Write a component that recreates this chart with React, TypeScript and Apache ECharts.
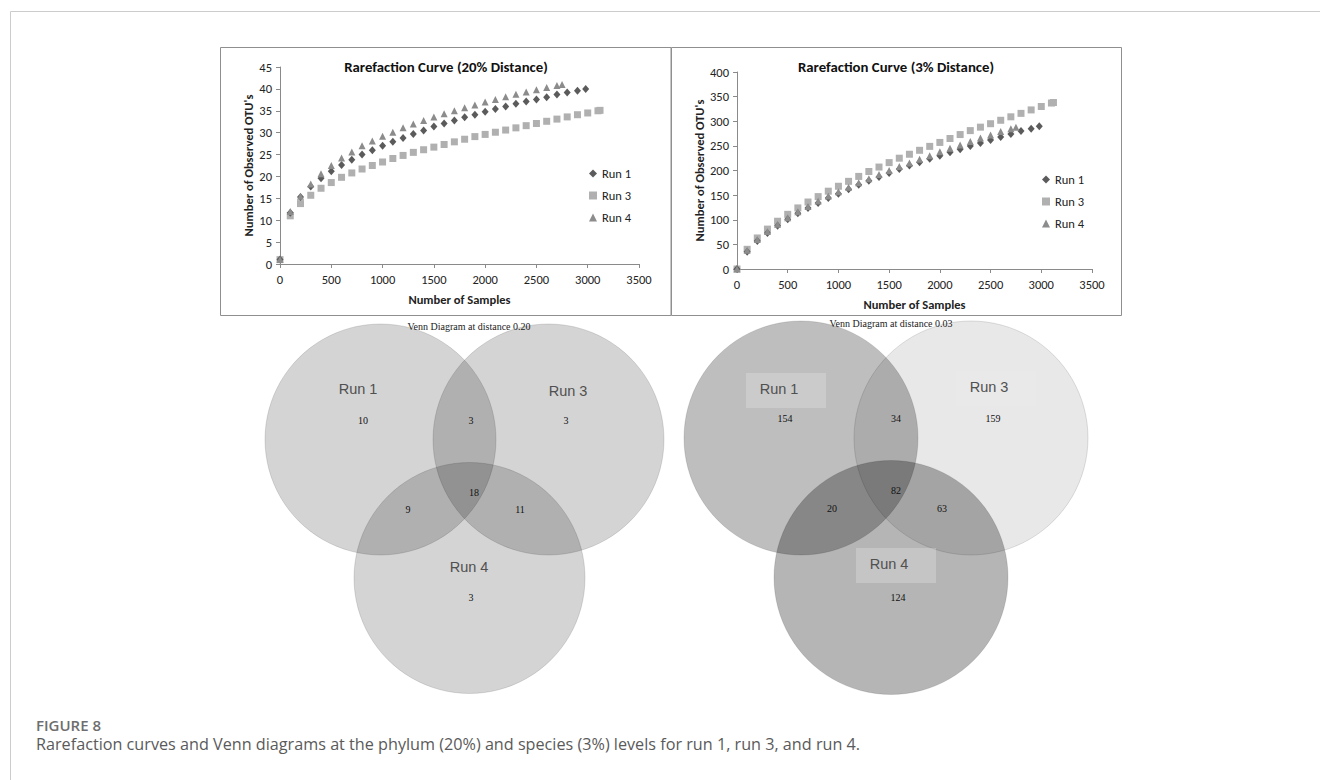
import React, { useEffect, useRef } from "react";
import * as echarts from "echarts";

// ---------- data ----------
const runNames = ["Run 1", "Run 3", "Run 4"];

// Rarefaction 20% distance
const run1X20 = [0,100,200,300,400,500,600,700,800,900,1000,1100,1200,1300,1400,1500,1600,1700,1800,1900,2000,2100,2200,2300,2400,2500,2600,2700,2800,2900,2980];
const run1Y20 = [1,11.7,15.3,17.7,19.6,21.2,22.6,23.8,25.0,26.0,27.0,27.9,28.8,29.7,30.5,31.4,32.1,32.8,33.5,34.1,34.8,35.4,36.0,36.6,37.1,37.6,38.1,38.7,39.2,39.6,40.0];
const run3X20 = [0,100,200,300,400,500,600,700,800,900,1000,1100,1200,1300,1400,1500,1600,1700,1800,1900,2000,2100,2200,2300,2400,2500,2600,2700,2800,2900,3000,3100,3120];
const run3Y20 = [1,11.0,13.8,15.7,17.3,18.6,19.8,20.8,21.7,22.5,23.3,24.1,24.8,25.5,26.1,26.7,27.3,27.9,28.5,29.1,29.6,30.1,30.6,31.1,31.6,32.1,32.6,33.1,33.6,34.1,34.5,35.0,35.1];
const run4X20 = [0,100,200,300,400,500,600,700,800,900,1000,1100,1200,1300,1400,1500,1600,1700,1800,1900,2000,2100,2200,2300,2400,2500,2600,2700,2750];
const run4Y20 = [1,12.0,15.5,18.3,20.6,22.5,24.2,25.6,27.0,28.1,29.2,30.1,31.1,32.0,32.8,33.6,34.3,35.0,35.7,36.3,37.0,37.6,38.2,38.8,39.3,39.8,40.3,40.8,41.0];

// Rarefaction 3% distance
const run1X3 = run1X20;
const run1Y3 = [0,35,57,73,88,101,113,124,134,144,153,162,171,179,187,195,203,210,217,224,230,237,243,250,256,262,268,274,280,285,290];
const run3X3 = run3X20;
const run3Y3 = [0,40,63,81,97,111,124,136,147,158,168,178,188,198,207,216,225,233,241,249,257,265,273,281,288,295,302,309,316,323,330,337,338];
const run4X3 = run4X20;
const run4Y3 = [0,38,60,76,91,104,116,127,138,148,157,166,175,183,192,200,208,215,223,230,238,245,252,259,266,272,279,285,288];

// Venn counts: [only 1, only 3, only 4, 1∩3, 1∩4, 3∩4, 1∩3∩4]
const venn20Counts = [10, 3, 3, 3, 9, 11, 18];
const venn3Counts = [154, 159, 124, 34, 20, 63, 82];

const chartTitles = ["Rarefaction Curve (20% Distance)", "Rarefaction Curve (3% Distance)"];
const vennTitles = ["Venn Diagram at distance 0.20", "Venn Diagram at distance 0.03"];
const xAxisName = "Number of Samples";
const yAxisName = "Number of Observed OTU's";
const figureLabel = "FIGURE 8";
const captionText = "Rarefaction curves and Venn diagrams at the phylum (20%) and species (3%) levels for run 1, run 3, and run 4.";

// ---------- styles ----------
const FONT = "Carlito, Lato, 'Open Sans', sans-serif";
const runColors = ["#5b5b5b", "#b0b0b0", "#8c8c8c"];
const runSymbols = ["diamond", "rect", "triangle"];
const runSymbolSizes = [[7, 8], 7, 7];

function zip(xs: number[], ys: number[]) {
  return xs.map((x, i) => [x, ys[i]]);
}

export default function App() {
  const ref = useRef<HTMLDivElement>(null);

  useEffect(() => {
    if (!ref.current) return;
    const chart = echarts.init(ref.current, undefined, { renderer: "svg" });

    const data20 = [zip(run1X20, run1Y20), zip(run3X20, run3Y20), zip(run4X20, run4Y20)];
    const data3 = [zip(run1X3, run1Y3), zip(run3X3, run3Y3), zip(run4X3, run4Y3)];

    const series: any[] = [];
    [data20, data3].forEach((set, gi) => {
      set.forEach((d, i) => {
        series.push({
          type: "scatter",
          name: runNames[i],
          xAxisIndex: gi,
          yAxisIndex: gi,
          data: d,
          symbol: runSymbols[i],
          symbolSize: runSymbolSizes[i],
          itemStyle: { color: runColors[i], opacity: 1 },
          z: 3 + (i === 1 ? 0 : 1),
        });
      });
    });

    const axisLine = { show: true, lineStyle: { color: "#8a8a8a", width: 1 } };
    const axisTick = { show: true, length: 4, lineStyle: { color: "#8a8a8a" } };
    const labelStyle = { fontFamily: FONT, fontSize: 12.5, color: "#222", formatter: (v: number) => String(v) };
    const nameStyle = { fontFamily: FONT, fontSize: 12.5, fontWeight: "bold" as const, color: "#222" };

    const xAxes = [0, 1].map((gi) => ({
      type: "value",
      gridIndex: gi,
      min: 0,
      max: 3500,
      interval: 500,
      axisLine,
      axisTick,
      splitLine: { show: false },
      axisLabel: { ...labelStyle, margin: 9 },
      name: xAxisName,
      nameLocation: "middle",
      nameGap: 29,
      nameTextStyle: nameStyle,
    }));
    const yAxes = [
      { max: 45, interval: 5, nameGap: 22 },
      { max: 400, interval: 50, nameGap: 29 },
    ].map((c, gi) => ({
      type: "value",
      gridIndex: gi,
      min: 0,
      max: c.max,
      interval: c.interval,
      axisLine,
      axisTick,
      splitLine: { show: false },
      axisLabel: { ...labelStyle, margin: 8 },
      name: yAxisName,
      nameLocation: "middle",
      nameGap: c.nameGap,
      nameTextStyle: nameStyle,
    }));

    // Venn layouts
    const vennCircles = [
      [ [380.5, 439.5], [548.5, 439.5], [469.5, 578] ],
      [ [801, 438], [971, 438], [891, 577.5] ],
    ];
    const vennR = [115.5, 117];
    const vennFills = [
      ["rgba(0,0,0,0.17)", "rgba(0,0,0,0.17)", "rgba(0,0,0,0.17)"],
      ["rgba(0,0,0,0.255)", "rgba(0,0,0,0.09)", "rgba(0,0,0,0.29)"],
    ];
    const vennCountPos = [
      [[363, 420], [566, 420], [471, 597], [471, 420], [408, 509], [520, 509], [474, 492]],
      [[785, 418], [993, 418], [898, 597], [896, 418], [832, 508], [942, 508], [896, 490]],
    ];
    const vennLabelPos = [
      [[358, 389], [568, 391], [469, 567]],
      [[779, 389], [989, 387], [889, 564]],
    ];
    const vennTitlePos = [[469, 326], [891, 323]];
    const vennCounts = [venn20Counts, venn3Counts];

    const graphics: any[] = [];
    // outer frame
    graphics.push({ type: "line", shape: { x1: 10.5, y1: 11.5, x2: 1320, y2: 11.5 }, style: { stroke: "#cccccc", lineWidth: 1 } });
    graphics.push({ type: "line", shape: { x1: 10.5, y1: 11.5, x2: 10.5, y2: 780 }, style: { stroke: "#cccccc", lineWidth: 1 } });
    // chart boxes
    graphics.push({ type: "rect", shape: { x: 220.5, y: 47.5, width: 450.5, height: 268 }, style: { fill: "none", stroke: "#8f8f8f", lineWidth: 1 } });
    graphics.push({ type: "rect", shape: { x: 671.5, y: 47.5, width: 450, height: 268 }, style: { fill: "none", stroke: "#8f8f8f", lineWidth: 1 } });
    // chart titles
    [[446, 67], [896, 67]].forEach((p, i) => {
      graphics.push({
        type: "text", x: p[0], y: p[1],
        style: { text: chartTitles[i], fontFamily: FONT, fontSize: 14.8, fontWeight: "bold", fill: "#111", align: "center", verticalAlign: "middle" },
      });
    });

    // Venn diagrams
    [0, 1].forEach((v) => {
      vennCircles[v].forEach((c, i) => {
        graphics.push({
          type: "circle", shape: { cx: c[0], cy: c[1], r: vennR[v] },
          style: { fill: vennFills[v][i], stroke: "rgba(0,0,0,0.12)", lineWidth: 1 },
        });
      });
      graphics.push({
        type: "text", x: vennTitlePos[v][0], y: vennTitlePos[v][1],
        style: { text: vennTitles[v], fontFamily: "'Liberation Serif', serif", fontSize: 10, fill: "#222", align: "center", verticalAlign: "middle" },
      });
      if (v === 1) {
        vennLabelPos[v].forEach((p) => {
          graphics.push({
            type: "rect", shape: { x: p[0] - 33, y: p[1] - 16, width: 80, height: 35 },
            style: { fill: "rgba(235,235,235,0.3)" },
          });
        });
      }
      vennLabelPos[v].forEach((p, i) => {
        graphics.push({
          type: "text", x: p[0], y: p[1],
          style: { text: runNames[i], fontFamily: "'Liberation Sans', Arial, sans-serif", fontSize: 14.5, fill: "#505050", align: "center", verticalAlign: "middle" },
        });
      });
      vennCountPos[v].forEach((p, i) => {
        graphics.push({
          type: "text", x: p[0], y: p[1],
          style: { text: String(vennCounts[v][i]), fontFamily: "'Liberation Serif', serif", fontSize: 10, fill: "#111", align: "center", verticalAlign: "middle" },
        });
      });
    });

    // caption
    graphics.push({
      type: "text", x: 36, y: 725,
      style: { text: figureLabel, fontFamily: "'Open Sans', sans-serif", fontSize: 15, fontWeight: 600, fill: "#6e6e6e", align: "left", verticalAlign: "middle" },
    });
    graphics.push({
      type: "text", x: 36, y: 744,
      style: { text: captionText, fontFamily: "'Open Sans', sans-serif", fontSize: 16.2, fill: "#5a5a5a", align: "left", verticalAlign: "middle" },
    });

    const legendBase = {
      orient: "vertical",
      itemGap: 9,
      itemWidth: 8,
      itemHeight: 8,
      textStyle: { fontFamily: FONT, fontSize: 12.5, color: "#222" },
      data: runNames,
      selectedMode: false,
    };

    chart.setOption({
      animation: false,
      backgroundColor: "#ffffff",
      grid: [
        { left: 280, top: 67, width: 359, height: 197 },
        { left: 737, top: 72, width: 355, height: 197 },
      ],
      xAxis: xAxes,
      yAxis: yAxes,
      legend: [
        { ...legendBase, left: 584, top: 162 },
        { ...legendBase, left: 1037, top: 168 },
      ],
      series,
      graphic: { elements: graphics },
    });

    return () => chart.dispose();
  }, []);

  return (
    <div
      ref={ref}
      style={{ position: "absolute", left: 0, top: 0, width: 1320, height: 780 }}
    />
  );
}
